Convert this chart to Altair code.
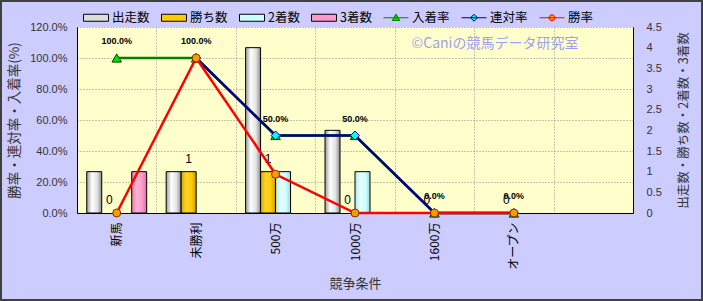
import altair as alt
import pandas as pd

# ---------------- data ----------------
categories = ["新馬", "未勝利", "500万", "1000万", "1600万", "オープン"]
x_domain = categories + [" "]
bar_series = ["出走数", "勝ち数", "2着数", "3着数"]
starts = [1, 1, 4, 2, 0, 0]
wins = [0, 1, 1, 0, 0, 0]
seconds = [0, 0, 1, 1, 0, 0]
thirds = [1, 0, 0, 0, 0, 0]
line_series = ["入着率", "連対率", "勝率"]
place_rate = [1.0, 1.0, 0.5, 0.5, 0.0, 0.0]
rentai_rate = [None, 1.0, 0.5, 0.5, 0.0, 0.0]
win_rate = [0.0, 1.0, 0.25, 0.0, 0.0, 0.0]
pct_ticks = [0, 0.2, 0.4, 0.6, 0.8, 1.0, 1.2]
count_ticks = [0, 0.5, 1, 1.5, 2, 2.5, 3, 3.5, 4, 4.5]
watermark = "©Caniの競馬データ研究室"

bar_values = {"出走数": starts, "勝ち数": wins, "2着数": seconds, "3着数": thirds}
rate_values = {"入着率": place_rate, "連対率": rentai_rate, "勝率": win_rate}

bar_df = pd.DataFrame([
    {"cat": c, "series": s, "value": bar_values[s][i]}
    for s in bar_series for i, c in enumerate(categories)
])
rate_df = pd.DataFrame([
    {"cat": c, "series": s, "rate": rate_values[s][i]}
    for s in line_series for i, c in enumerate(categories)
])

JP = "Noto Sans CJK JP"
NUM = "Liberation Sans"

X = alt.X(
    "cat:N",
    sort=x_domain,
    scale=alt.Scale(domain=x_domain, paddingInner=0, paddingOuter=0),
    axis=alt.Axis(
        title="競争条件", titleFont=JP, titleFontSize=13, titleFontWeight="normal",
        titleColor="#333333", titleY=70, titleBaseline="middle",
        labelAngle=270, labelAlign="right", labelBaseline="middle",
        labelPadding=9, labelFont=JP, labelFontSize=12, labelColor="#000000",
        ticks=False, tickBand="extent", grid=True, gridDash=[1, 2],
        gridColor="#8c8c8c", domainColor="#000000", labelLimit=0,
    ),
)
XO = alt.XOffset(
    "series:N",
    scale=alt.Scale(domain=bar_series, paddingInner=0, paddingOuter=0.65),
)
Y_count = alt.Y(
    "value:Q",
    scale=alt.Scale(domain=[0, 4.5], nice=False),
    axis=alt.Axis(
        orient="right", values=count_ticks, format="~g", grid=False,
        ticks=False, labelPadding=13, labelFont=NUM, labelFontSize=11,
        labelColor="#333333", domainColor="#000000",
        title="出走数・勝ち数・2着数・3着数", titleAngle=270, titleFont=JP,
        titleFontSize=12.5, titleFontWeight="normal", titleColor="#333333",
        titleX=50, titleBaseline="middle",
    ),
)
Y_rate = alt.Y(
    "rate:Q",
    scale=alt.Scale(domain=[0, 1.2], nice=False),
    axis=alt.Axis(
        orient="left", values=pct_ticks, format=".1%", grid=True,
        gridDash=[1, 2], gridColor="#8c8c8c", ticks=False, labelPadding=10,
        labelFont=NUM, labelFontSize=11, labelColor="#333333",
        domainColor="#000000",
        title="勝率・連対率・入着率(%)", titleAngle=270, titleFont=JP,
        titleFontSize=13.5, titleFontWeight="normal", titleColor="#333333",
        titleX=-63, titleBaseline="middle",
    ),
)


def grad(c0, c1, c2, c3):
    return alt.Gradient(
        gradient="linear", x1=0, x2=1, y1=0, y2=0,
        stops=[alt.GradientStop(color=c0, offset=0),
               alt.GradientStop(color=c1, offset=0.35),
               alt.GradientStop(color=c2, offset=0.7),
               alt.GradientStop(color=c3, offset=1)],
    )


bar_fills = {
    "出走数": grad("#9a9a9a", "#ffffff", "#e2e2e2", "#8a8a8a"),
    "勝ち数": grad("#d9a800", "#ffd42a", "#ffcc00", "#c89a00"),
    "2着数": grad("#b0e6e6", "#e6ffff", "#ccffff", "#9fd8d8"),
    "3着数": grad("#e67aa8", "#ffb3d6", "#ff99cc", "#d9709f"),
}

bar_base = alt.Chart(bar_df).encode(x=X, xOffset=XO, y=Y_count)
bar_layers = [
    bar_base.transform_filter(
        (alt.datum.series == s) & (alt.datum.value > 0)
    ).mark_bar(fill=bar_fills[s], stroke="#000000", strokeWidth=1)
    for s in bar_series
]
win_text = bar_base.transform_filter(alt.datum.series == "勝ち数").mark_text(
    dy=-13, fontSize=12, font=NUM, color="#000000"
).encode(text="value:Q")
bars = alt.layer(*bar_layers, win_text)

rate_base = alt.Chart(rate_df).encode(x=X, y=Y_rate)
styles = {
    "入着率": dict(line="#008000", shape="triangle-up", fill="#00e000", stroke="#004000", size=90),
    "連対率": dict(line="#000080", shape="diamond", fill="#00ffff", stroke="#000080", size=81),
    "勝率": dict(line="#ff0000", shape="circle", fill="#ff9900", stroke="#6b3a00", size=64),
}
rate_layers = []
for s in line_series:
    st = styles[s]
    f = rate_base.transform_filter(alt.datum.series == s)
    rate_layers.append(f.mark_line(color=st["line"], strokeWidth=2.5))
    rate_layers.append(f.mark_point(
        shape=st["shape"], filled=True, fill=st["fill"], stroke=st["stroke"],
        strokeWidth=1, size=st["size"], opacity=1,
    ))
pct_text = rate_base.transform_filter(alt.datum.series == "入着率").mark_text(
    dy=-17, fontSize=9, fontWeight="bold", font=NUM, color="#000000"
).encode(text=alt.Text("rate:Q", format=".1%"))
rates = alt.layer(*rate_layers, pct_text)

# legend (one row, built from scales)
legend_names = bar_series + line_series
rect_path = "M-1,-0.28H1V0.28H-1Z"
legend_paths = [rect_path] * 4 + [
    "M-1,0H1M0,-0.3L0.3,0.22L-0.3,0.22Z",
    "M-1,0H1M0,-0.28L0.28,0L0,0.28L-0.28,0Z",
    "M-1,0H1M-0.24,0A0.24,0.24,0,1,1,0.24,0A0.24,0.24,0,1,1,-0.24,0Z",
]
legend_fills = ["#dddddd", "#ffcc00", "#ccffff", "#ff99cc", "#00e000", "#00ffff", "#ff9900"]
legend_strokes = ["#000000"] * 4 + ["#008000", "#000080", "#ff0000"]
legend_widths = [1, 1, 1, 1, 2, 2, 2]
leg = alt.Legend(
    orient="none", legendX=6, legendY=-22.5, direction="horizontal", title=None,
    symbolSize=625, labelFont=JP, labelFontSize=12.5, labelColor="#000000",
    labelOffset=3, columnPadding=9, padding=0, symbolLimit=0, labelLimit=0,
    symbolOpacity=1,
)
legend_df = pd.DataFrame({"name": legend_names})
legend_layer = alt.Chart(legend_df).transform_filter("false").mark_point(filled=True).encode(
    shape=alt.Shape("name:N", scale=alt.Scale(domain=legend_names, range=legend_paths), legend=leg),
    fill=alt.Fill("name:N", scale=alt.Scale(domain=legend_names, range=legend_fills), legend=leg),
    stroke=alt.Stroke("name:N", scale=alt.Scale(domain=legend_names, range=legend_strokes), legend=leg),
    strokeWidth=alt.StrokeWidth("name:N", scale=alt.Scale(domain=legend_names, range=legend_widths), legend=leg),
)

wm_layer = alt.Chart(pd.DataFrame({"t": [watermark]})).mark_text(
    font=JP, fontSize=14, color="#a0a0f0", align="center", baseline="middle"
).encode(x=alt.value(418), y=alt.value(17), text="t:N")

frame = alt.Chart(pd.DataFrame({"t": [0]})).mark_rect(
    fill="transparent", stroke="#404040", strokeWidth=2
).encode(x=alt.value(-76), x2=alt.value(625), y=alt.value(-26), y2=alt.value(273))

chart = alt.layer(bars, rates, legend_layer, wm_layer, frame).resolve_scale(
    y="independent"
).properties(
    width=556, height=186,
    padding={"left": 77, "top": 27, "right": 70, "bottom": 88},
    autosize=alt.AutoSizeParams(type="none"),
    background="#ccccff",
    view=alt.ViewBackground(fill="#ffffcc", strokeWidth=0),
)

chart.save("out.html", embed_options={"renderer": "svg", "actions": False})
